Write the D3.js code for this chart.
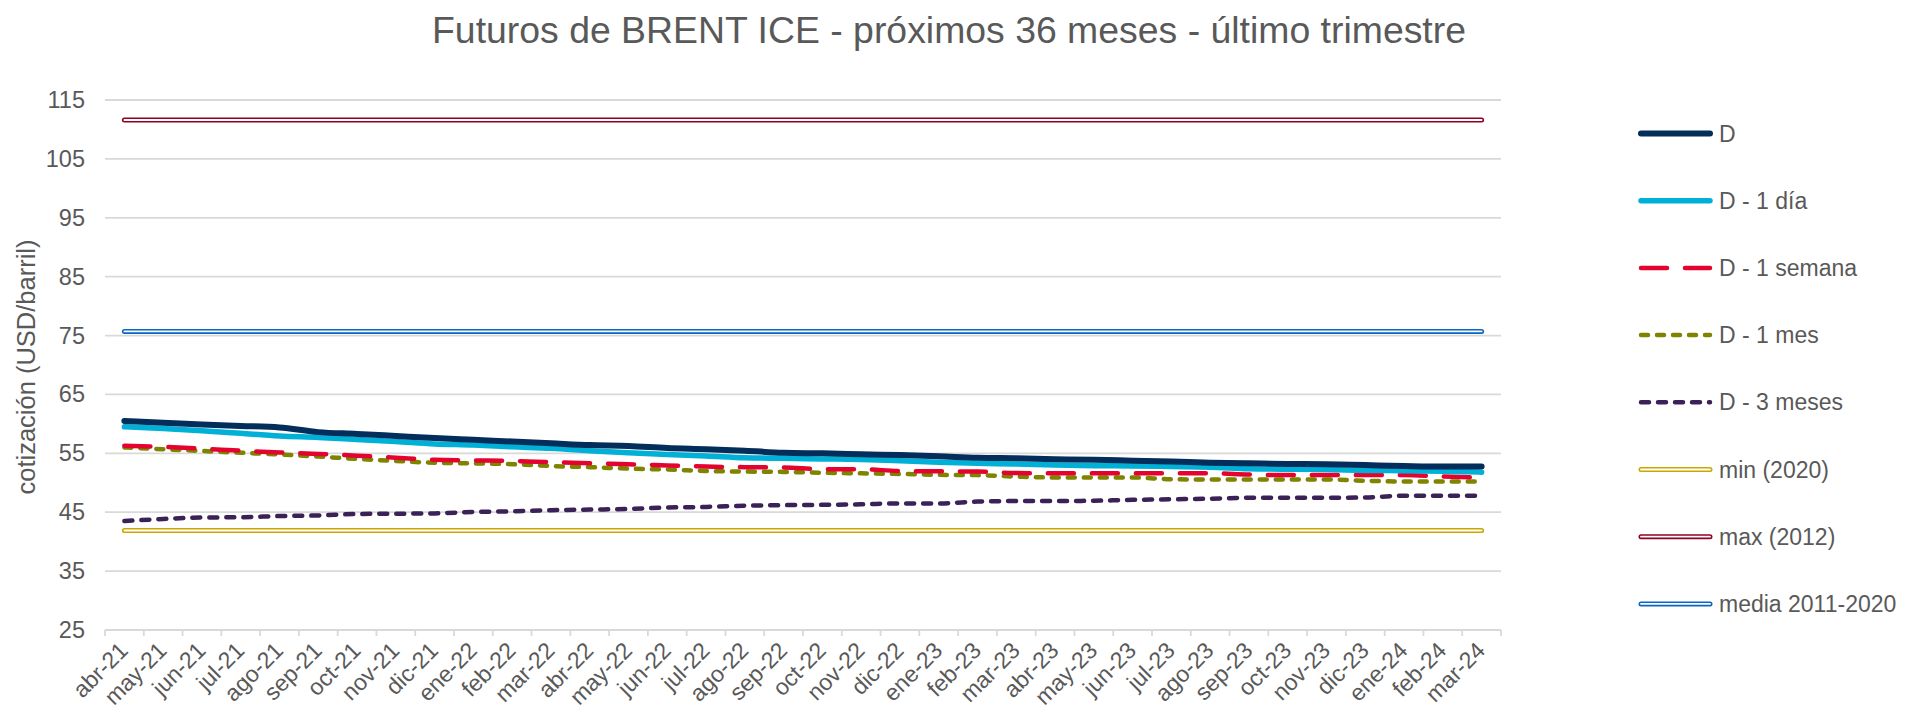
<!DOCTYPE html>
<html>
<head>
<meta charset="utf-8">
<script src="https://cdn.jsdelivr.net/npm/d3@7"></script>
<style>
  body { margin: 0; background: #fff; }
  svg text { font-family: "Liberation Sans", Arial, sans-serif; fill: #595959; }
</style>
</head>
<body>
<svg id="chart" width="1908" height="714"></svg>
<script>
// Months of the futures curve (x axis)
var months = ['abr-21', 'may-21', 'jun-21', 'jul-21', 'ago-21', 'sep-21', 'oct-21', 'nov-21', 'dic-21',
              'ene-22', 'feb-22', 'mar-22', 'abr-22', 'may-22', 'jun-22', 'jul-22', 'ago-22', 'sep-22',
              'oct-22', 'nov-22', 'dic-22', 'ene-23', 'feb-23', 'mar-23', 'abr-23', 'may-23', 'jun-23',
              'jul-23', 'ago-23', 'sep-23', 'oct-23', 'nov-23', 'dic-23', 'ene-24', 'feb-24', 'mar-24'];

// Curves (USD/barril)
var serieD = [60.5, 60.2, 59.9, 59.65, 59.4, 58.6, 58.3, 57.95, 57.6, 57.3, 57.0, 56.7,
              56.4, 56.25, 55.9, 55.7, 55.45, 55.1, 55.0, 54.85, 54.7, 54.5, 54.25, 54.15,
              54.0, 53.9, 53.75, 53.6, 53.4, 53.3, 53.2, 53.15, 53.0, 52.85, 52.75, 52.75];
var serieDia = [59.5, 59.2, 58.85, 58.4, 57.95, 57.7, 57.35, 57.0, 56.6, 56.4, 56.1, 55.85,
                55.45, 55.1, 54.8, 54.55, 54.25, 54.15, 54.05, 53.95, 53.75, 53.5, 53.3, 53.2,
                53.0, 52.9, 52.85, 52.75, 52.65, 52.4, 52.3, 52.25, 52.1, 52.05, 51.95, 51.8];
var serieSemana = [56.3, 56.1, 55.8, 55.45, 55.15, 54.9, 54.6, 54.25, 53.9, 53.8, 53.7, 53.5,
                   53.3, 53.15, 52.95, 52.75, 52.65, 52.6, 52.3, 52.3, 52.0, 51.95, 51.9, 51.65,
                   51.6, 51.6, 51.6, 51.6, 51.6, 51.4, 51.3, 51.3, 51.3, 51.3, 51.05, 50.9];
var serieMes = [56.0, 55.7, 55.4, 55.1, 54.8, 54.45, 54.05, 53.7, 53.4, 53.3, 53.15, 52.85,
                52.65, 52.4, 52.25, 52.0, 51.9, 51.85, 51.7, 51.6, 51.5, 51.35, 51.3, 51.05,
                50.9, 50.9, 50.9, 50.6, 50.55, 50.55, 50.55, 50.55, 50.35, 50.2, 50.2, 50.2];
var serie3Meses = [43.5, 43.85, 44.1, 44.15, 44.35, 44.45, 44.7, 44.75, 44.8, 45.05, 45.15, 45.35,
                   45.45, 45.55, 45.8, 45.9, 46.1, 46.2, 46.25, 46.35, 46.5, 46.5, 46.8, 46.9,
                   46.9, 46.95, 47.1, 47.2, 47.3, 47.45, 47.45, 47.45, 47.5, 47.8, 47.8, 47.8];

// Reference levels (flat lines)
var minValue = 41.9;
var maxValue = 111.6;
var mediaValue = 75.7;

// Y axis ticks
var yTicks = [25, 35, 45, 55, 65, 75, 85, 95, 105, 115];

var legendNames = ['D', 'D - 1 día', 'D - 1 semana', 'D - 1 mes', 'D - 3 meses',
                   'min (2020)', 'max (2012)', 'media 2011-2020'];

// Styles per series
var curves = [
  {values: serieD,       color: '#032d5a', width: 6,   dash: null},
  {values: serieDia,     color: '#00b0d6', width: 5.5, dash: null},
  {values: serieSemana,  color: '#e4032e', width: 4.5, dash: '26,18'},
  {values: serieMes,     color: '#7e8400', width: 4.5, dash: '7,9'},
  {values: serie3Meses,  color: '#3a2256', width: 4.5, dash: '8,9'}
];
var flats = [
  {value: minValue,   color: '#c9a700'},
  {value: maxValue,   color: '#900020'},
  {value: mediaValue, color: '#0866c6'}
];

var svg = d3.select('#chart');
// plot area (window.top is reserved, so prefixed names)
var plotLeft = 105, plotRight = 1501, plotTop = 100, plotBottom = 630;

var x = d3.scaleBand().domain(months).range([plotLeft, plotRight]);
var y = d3.scaleLinear().domain([25, 115]).range([plotBottom, plotTop]);
var cx = function(m) { return x(m) + x.bandwidth() / 2; };

// Title
svg.append('text')
  .attr('x', 949)
  .attr('y', 43)
  .attr('text-anchor', 'middle')
  .attr('textLength', 1034)
  .attr('lengthAdjust', 'spacingAndGlyphs')
  .style('font-size', '36px')
  .text('Futuros de BRENT ICE - próximos 36 meses - último trimestre');

// Grid lines
svg.append('g')
  .selectAll('line')
  .data(yTicks)
  .enter()
  .append('line')
  .attr('x1', plotLeft)
  .attr('x2', plotRight)
  .attr('y1', function(d) { return y(d); })
  .attr('y2', function(d) { return y(d); })
  .attr('stroke', '#d9d9d9')
  .attr('stroke-width', 1.8);

// Y axis labels
svg.append('g')
  .selectAll('text')
  .data(yTicks)
  .enter()
  .append('text')
  .attr('x', 85)
  .attr('y', function(d) { return y(d); })
  .attr('text-anchor', 'end')
  .attr('dominant-baseline', 'central')
  .style('font-size', '23.5px')
  .text(function(d) { return d; });

// Y axis title
svg.append('text')
  .attr('transform', 'translate(26,' + ((plotTop + plotBottom) / 2 + 2) + ') rotate(-90)')
  .attr('text-anchor', 'middle')
  .attr('dominant-baseline', 'central')
  .style('font-size', '25.5px')
  .text('cotización (USD/barril)');

// X axis: tick marks at band edges
var edges = months.map(function(m) { return x(m); }).concat([plotRight]);
svg.append('g')
  .attr('transform', 'translate(0,' + plotBottom + ')')
  .selectAll('line')
  .data(edges)
  .enter()
  .append('line')
  .attr('x1', function(d) { return d; })
  .attr('x2', function(d) { return d; })
  .attr('y1', 0)
  .attr('y2', 6)
  .attr('stroke', '#d9d9d9')
  .attr('stroke-width', 1.8);

// X labels rotated
svg.append('g')
  .selectAll('text')
  .data(months)
  .enter()
  .append('text')
  .attr('transform', function(d) { return 'translate(' + (cx(d) + 5) + ',' + (plotBottom + 22) + ') rotate(-45)'; })
  .attr('text-anchor', 'end')
  .style('font-size', '23px')
  .text(function(d) { return d; });

// Double line helper (colored outer, white inner)
function doubleLine(g, x1, y1, x2, y2, color) {
  g.append('line').attr('x1', x1).attr('y1', y1).attr('x2', x2).attr('y2', y2)
    .attr('stroke', color).attr('stroke-width', 5).attr('stroke-linecap', 'round');
  g.append('line').attr('x1', x1).attr('y1', y1).attr('x2', x2).attr('y2', y2)
    .attr('stroke', '#fff').attr('stroke-width', 1.8).attr('stroke-linecap', 'round');
}

// Flat reference lines
var first = months[0], last = months[months.length - 1];
var gFlat = svg.append('g');
flats.forEach(function(f) {
  doubleLine(gFlat, cx(first), y(f.value), cx(last), y(f.value), f.color);
});

// Curves (draw last series first so D sits on top)
var line = d3.line()
  .x(function(d, i) { return cx(months[i]); })
  .y(function(d) { return y(d); })
  .curve(d3.curveMonotoneX);

curves.slice().reverse().forEach(function(c) {
  svg.append('path')
    .datum(c.values)
    .attr('d', line)
    .attr('fill', 'none')
    .attr('stroke', c.color)
    .attr('stroke-width', c.width)
    .attr('stroke-linecap', 'round')
    .attr('stroke-linejoin', 'round')
    .attr('stroke-dasharray', c.dash);
});

// Legend
var legX1 = 1641, legX2 = 1710, legY0 = 133.5, legStep = 67.2;
var gLeg = svg.append('g');
legendNames.forEach(function(name, i) {
  var ly = legY0 + i * legStep;
  if (i < curves.length) {
    var c = curves[i];
    gLeg.append('line')
      .attr('x1', legX1).attr('x2', legX2).attr('y1', ly).attr('y2', ly)
      .attr('stroke', c.color)
      .attr('stroke-width', c.width)
      .attr('stroke-linecap', 'round')
      .attr('stroke-dasharray', c.dash);
  } else {
    doubleLine(gLeg, legX1, ly, legX2, ly, flats[i - curves.length].color);
  }
  gLeg.append('text')
    .attr('x', 1719)
    .attr('y', ly)
    .attr('dominant-baseline', 'central')
    .style('font-size', '23px')
    .text(name);
});
</script>
</body>
</html>
